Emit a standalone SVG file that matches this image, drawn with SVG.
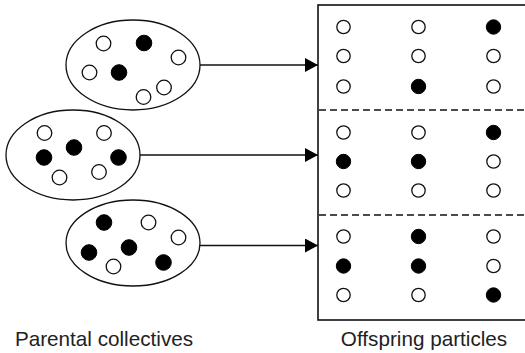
<svg xmlns="http://www.w3.org/2000/svg" width="525" height="353" viewBox="0 0 525 353">
<defs>
<style>
.bg{fill:#fff}
.ell{fill:none;stroke:#111;stroke-width:1.3}
.o{fill:#fff;stroke:#111;stroke-width:1.3}
.f{fill:#000;stroke:#000;stroke-width:1}
.conn{stroke:#111;stroke-width:1.5;fill:none}
.frame{stroke:#111;stroke-width:1.6;fill:none}
.dash{stroke:#111;stroke-width:1.4;stroke-dasharray:7,4;fill:none}
.lbl{font-family:"Liberation Sans",Arial,sans-serif;font-size:20.7px;fill:#222;text-anchor:middle}
</style>
<marker id="ah" viewBox="0 0 13 14" refX="13" refY="7" markerWidth="13" markerHeight="14" markerUnits="userSpaceOnUse" orient="auto">
<path d="M0,0 L13,7 L0,14 Z" fill="#000"/>
</marker>
</defs>
<rect class="bg" x="0" y="0" width="525" height="353"/>

<g id="collective1">
<ellipse class="ell" cx="133" cy="65" rx="67" ry="45"/>
<circle class="o" cx="103.5" cy="43.5" r="7.3"/>
<circle class="f" cx="144" cy="43" r="7.8"/>
<circle class="o" cx="178.5" cy="57.5" r="7.3"/>
<circle class="o" cx="89.5" cy="72.5" r="7.3"/>
<circle class="f" cx="119" cy="72.5" r="7.8"/>
<circle class="o" cx="164" cy="87.5" r="7.3"/>
<circle class="o" cx="143.5" cy="97" r="7.3"/>
</g>

<g id="collective2">
<ellipse class="ell" cx="73" cy="155" rx="67" ry="45"/>
<circle class="o" cx="44.5" cy="133" r="7.3"/>
<circle class="o" cx="104" cy="133" r="7.3"/>
<circle class="f" cx="74" cy="147.5" r="7.8"/>
<circle class="f" cx="44" cy="157.5" r="7.8"/>
<circle class="f" cx="118.5" cy="157.5" r="7.8"/>
<circle class="o" cx="59.5" cy="177.5" r="7.3"/>
<circle class="o" cx="99" cy="172" r="7.3"/>
</g>

<g id="collective3">
<ellipse class="ell" cx="133" cy="243" rx="67" ry="43"/>
<circle class="f" cx="104" cy="222.5" r="7.8"/>
<circle class="o" cx="148.5" cy="222.5" r="7.3"/>
<circle class="o" cx="178.5" cy="237.5" r="7.3"/>
<circle class="f" cx="129" cy="247.5" r="7.8"/>
<circle class="f" cx="89" cy="252.5" r="7.8"/>
<circle class="o" cx="113.5" cy="266.5" r="7.3"/>
<circle class="f" cx="163.5" cy="262.5" r="7.8"/>
</g>

<g id="connectors">
<line class="conn" x1="200" y1="65" x2="318" y2="65" marker-end="url(#ah)"/>
<line class="conn" x1="140" y1="155" x2="318" y2="155" marker-end="url(#ah)"/>
<line class="conn" x1="200" y1="245.5" x2="318" y2="245.5" marker-end="url(#ah)"/>
</g>

<g id="offspring">
<rect class="frame" x="318" y="5" width="210" height="315"/>
<line class="dash" x1="319" y1="110" x2="525" y2="110"/>
<line class="dash" x1="319" y1="215" x2="525" y2="215"/>
<g id="panel1">
<circle class="o" cx="343.5" cy="27" r="6.7"/>
<circle class="o" cx="418.5" cy="27" r="6.7"/>
<circle class="f" cx="493.5" cy="27" r="7.2"/>
<circle class="o" cx="343.5" cy="56" r="6.7"/>
<circle class="o" cx="418.5" cy="56" r="6.7"/>
<circle class="o" cx="493.5" cy="56" r="6.7"/>
<circle class="o" cx="343.5" cy="86.5" r="6.7"/>
<circle class="f" cx="418.5" cy="86.5" r="7.2"/>
<circle class="o" cx="493.5" cy="86.5" r="6.7"/>
</g>
<g id="panel2">
<circle class="o" cx="343.5" cy="132.5" r="6.7"/>
<circle class="o" cx="418.5" cy="132.5" r="6.7"/>
<circle class="f" cx="493.5" cy="132.5" r="7.2"/>
<circle class="f" cx="343.5" cy="161.5" r="7.2"/>
<circle class="f" cx="418.5" cy="161.5" r="7.2"/>
<circle class="o" cx="493.5" cy="161.5" r="6.7"/>
<circle class="o" cx="343.5" cy="190.5" r="6.7"/>
<circle class="o" cx="418.5" cy="190.5" r="6.7"/>
<circle class="o" cx="493.5" cy="190.5" r="6.7"/>
</g>
<g id="panel3">
<circle class="o" cx="343.5" cy="236.5" r="6.7"/>
<circle class="f" cx="418.5" cy="236.5" r="7.2"/>
<circle class="o" cx="493.5" cy="236.5" r="6.7"/>
<circle class="f" cx="343.5" cy="266" r="7.2"/>
<circle class="f" cx="418.5" cy="266" r="7.2"/>
<circle class="o" cx="493.5" cy="266" r="6.7"/>
<circle class="o" cx="343.5" cy="295" r="6.7"/>
<circle class="o" cx="418.5" cy="295" r="6.7"/>
<circle class="f" cx="493.5" cy="295" r="7.2"/>
</g>
</g>

<g id="labels">
<text class="lbl" x="104" y="346">Parental collectives</text>
<text class="lbl" x="424" y="346">Offspring particles</text>
</g>
</svg>
